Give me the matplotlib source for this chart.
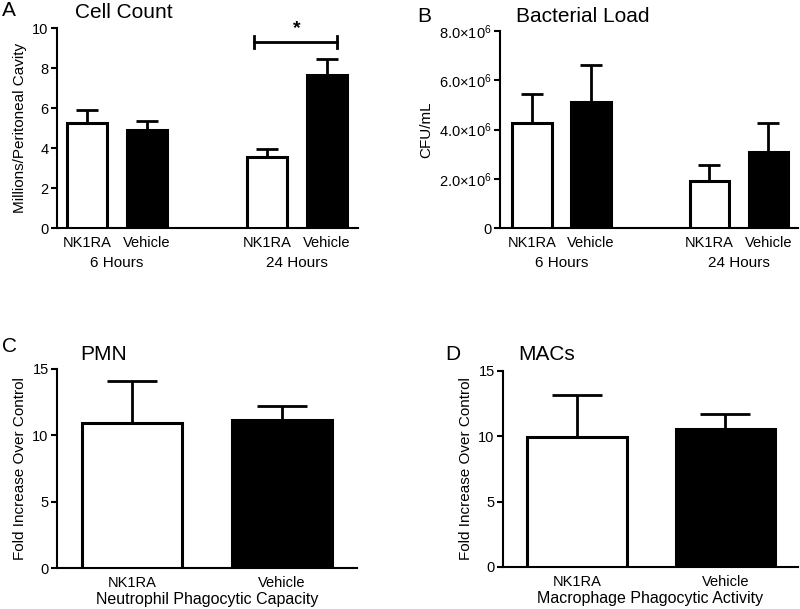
import matplotlib.pyplot as plt
from matplotlib.ticker import FuncFormatter

plt.rcParams['font.family'] = ['Liberation Sans', 'DejaVu Sans']
plt.rcParams['mathtext.fontset'] = 'custom'
plt.rcParams['mathtext.rm'] = 'Liberation Sans'
plt.rcParams['mathtext.it'] = 'Liberation Sans'

# data
treat = ["NK1RA", "Vehicle"]
hours = ["6 Hours", "24 Hours"]

cell_mean = [5.25, 4.9, 3.55, 7.65]
cell_err = [0.65, 0.45, 0.4, 0.8]

bact_mean = [4.25e6, 5.1e6, 1.9e6, 3.1e6]
bact_err = [1.2e6, 1.5e6, 0.65e6, 1.15e6]

pmn_mean = [10.9, 11.15]
pmn_err = [3.2, 1.05]

mac_mean = [9.95, 10.55]
mac_err = [3.25, 1.15]

W, H = 800, 609
fig = plt.figure(figsize=(W / 100, H / 100), dpi=100)


def box(left, top, right, bottom):
    return [left / W, 1 - bottom / H, (right - left) / W, (bottom - top) / H]


def px(x, y):
    return x / W, 1 - y / H


def style(ax):
    for s in ['top', 'right']:
        ax.spines[s].set_visible(False)
    for s in ['left', 'bottom']:
        ax.spines[s].set_linewidth(1.5)
    ax.tick_params(axis='y', length=4, width=1.5, labelsize=10.5, pad=2)
    ax.tick_params(axis='x', length=0, labelsize=10.5, pad=6)


def bars(ax, xs, mean, err, width, cap):
    cols = ['white', 'black'] * (len(xs) // 2)
    ax.bar(xs, mean, width=width, color=cols, edgecolor='black', linewidth=2.2, zorder=3)
    ax.errorbar(xs, mean, yerr=[[0] * len(err), err], fmt='none', ecolor='black',
                elinewidth=2, capsize=cap, capthick=2, zorder=2)


xs4 = [0, 1, 3, 4]
xs2 = [0, 1]

# A - cell count
axA = fig.add_axes(box(57, 28, 358, 228))
bars(axA, xs4, cell_mean, cell_err, 0.67, 8)
axA.set_xlim(-0.5, 4.52)
axA.set_ylim(0, 10)
axA.set_yticks([0, 2, 4, 6, 8, 10])
axA.set_xticks(xs4)
axA.set_xticklabels(treat * 2)
axA.set_ylabel("Millions/Peritoneal Cavity", fontsize=11, labelpad=4)
axA.plot([2.78, 4.17], [9.3, 9.3], color='black', lw=2, clip_on=False)
axA.plot([2.78, 2.78], [9.0, 9.6], color='black', lw=2, clip_on=False)
axA.plot([4.17, 4.17], [9.0, 9.6], color='black', lw=2, clip_on=False)
axA.text(3.5, 9.55, "*", ha='center', va='bottom', fontsize=14, fontweight='bold')
style(axA)

# B - bacterial load
axB = fig.add_axes(box(500, 31, 798, 228))
bars(axB, xs4, bact_mean, bact_err, 0.67, 8)
axB.set_xlim(-0.54, 4.5)
axB.set_ylim(0, 8e6)
axB.set_yticks([0, 2e6, 4e6, 6e6, 8e6])
axB.yaxis.set_major_formatter(FuncFormatter(
    lambda v, p: "0" if v == 0 else r"$%.1f{\times}10^{6}$" % (v / 1e6)))
axB.set_xticks(xs4)
axB.set_xticklabels(treat * 2)
axB.set_ylabel("CFU/mL", fontsize=11, labelpad=4)
style(axB)

for ax in (axA, axB):
    for i, h in enumerate(hours):
        ax.annotate(h, xy=(0.5 + 3 * i, 0), xycoords=('data', 'axes fraction'),
                    xytext=(0, -20), textcoords='offset points',
                    ha='center', va='top', fontsize=11)

# C - PMN
axC = fig.add_axes(box(57, 369, 357, 568))
bars(axC, xs2, pmn_mean, pmn_err, 0.67, 18)
axC.set_xlim(-0.5, 1.5)
axC.set_ylim(0, 15)
axC.set_yticks([0, 5, 10, 15])
axC.set_xticks(xs2)
axC.set_xticklabels(treat)
axC.set_xlabel("Neutrophil Phagocytic Capacity", fontsize=11.5, labelpad=1)
axC.set_ylabel("Fold Increase Over Control", fontsize=11, labelpad=4)
style(axC)

# D - MACs
axD = fig.add_axes(box(503, 371, 798, 567))
bars(axD, xs2, mac_mean, mac_err, 0.67, 18)
axD.set_xlim(-0.5, 1.49)
axD.set_ylim(0, 15)
axD.set_yticks([0, 5, 10, 15])
axD.set_xticks(xs2)
axD.set_xticklabels(treat)
axD.set_xlabel("Macrophage Phagocytic Activity", fontsize=11.5, labelpad=1)
axD.set_ylabel("Fold Increase Over Control", fontsize=11, labelpad=4)
style(axD)

# panel letters and titles
for lab, x, y in [("A", 2, 11), ("B", 417, 16), ("C", 2, 347), ("D", 445, 354)]:
    fig.text(*px(x, y), lab, ha='left', va='center', fontsize=15)
for t, x, y in [("Cell Count", 124, 13), ("Bacterial Load", 583, 16),
                ("PMN", 104, 355), ("MACs", 547, 354)]:
    fig.text(*px(x, y), t, ha='center', va='center', fontsize=15)

fig.savefig("out.png", dpi=100)
